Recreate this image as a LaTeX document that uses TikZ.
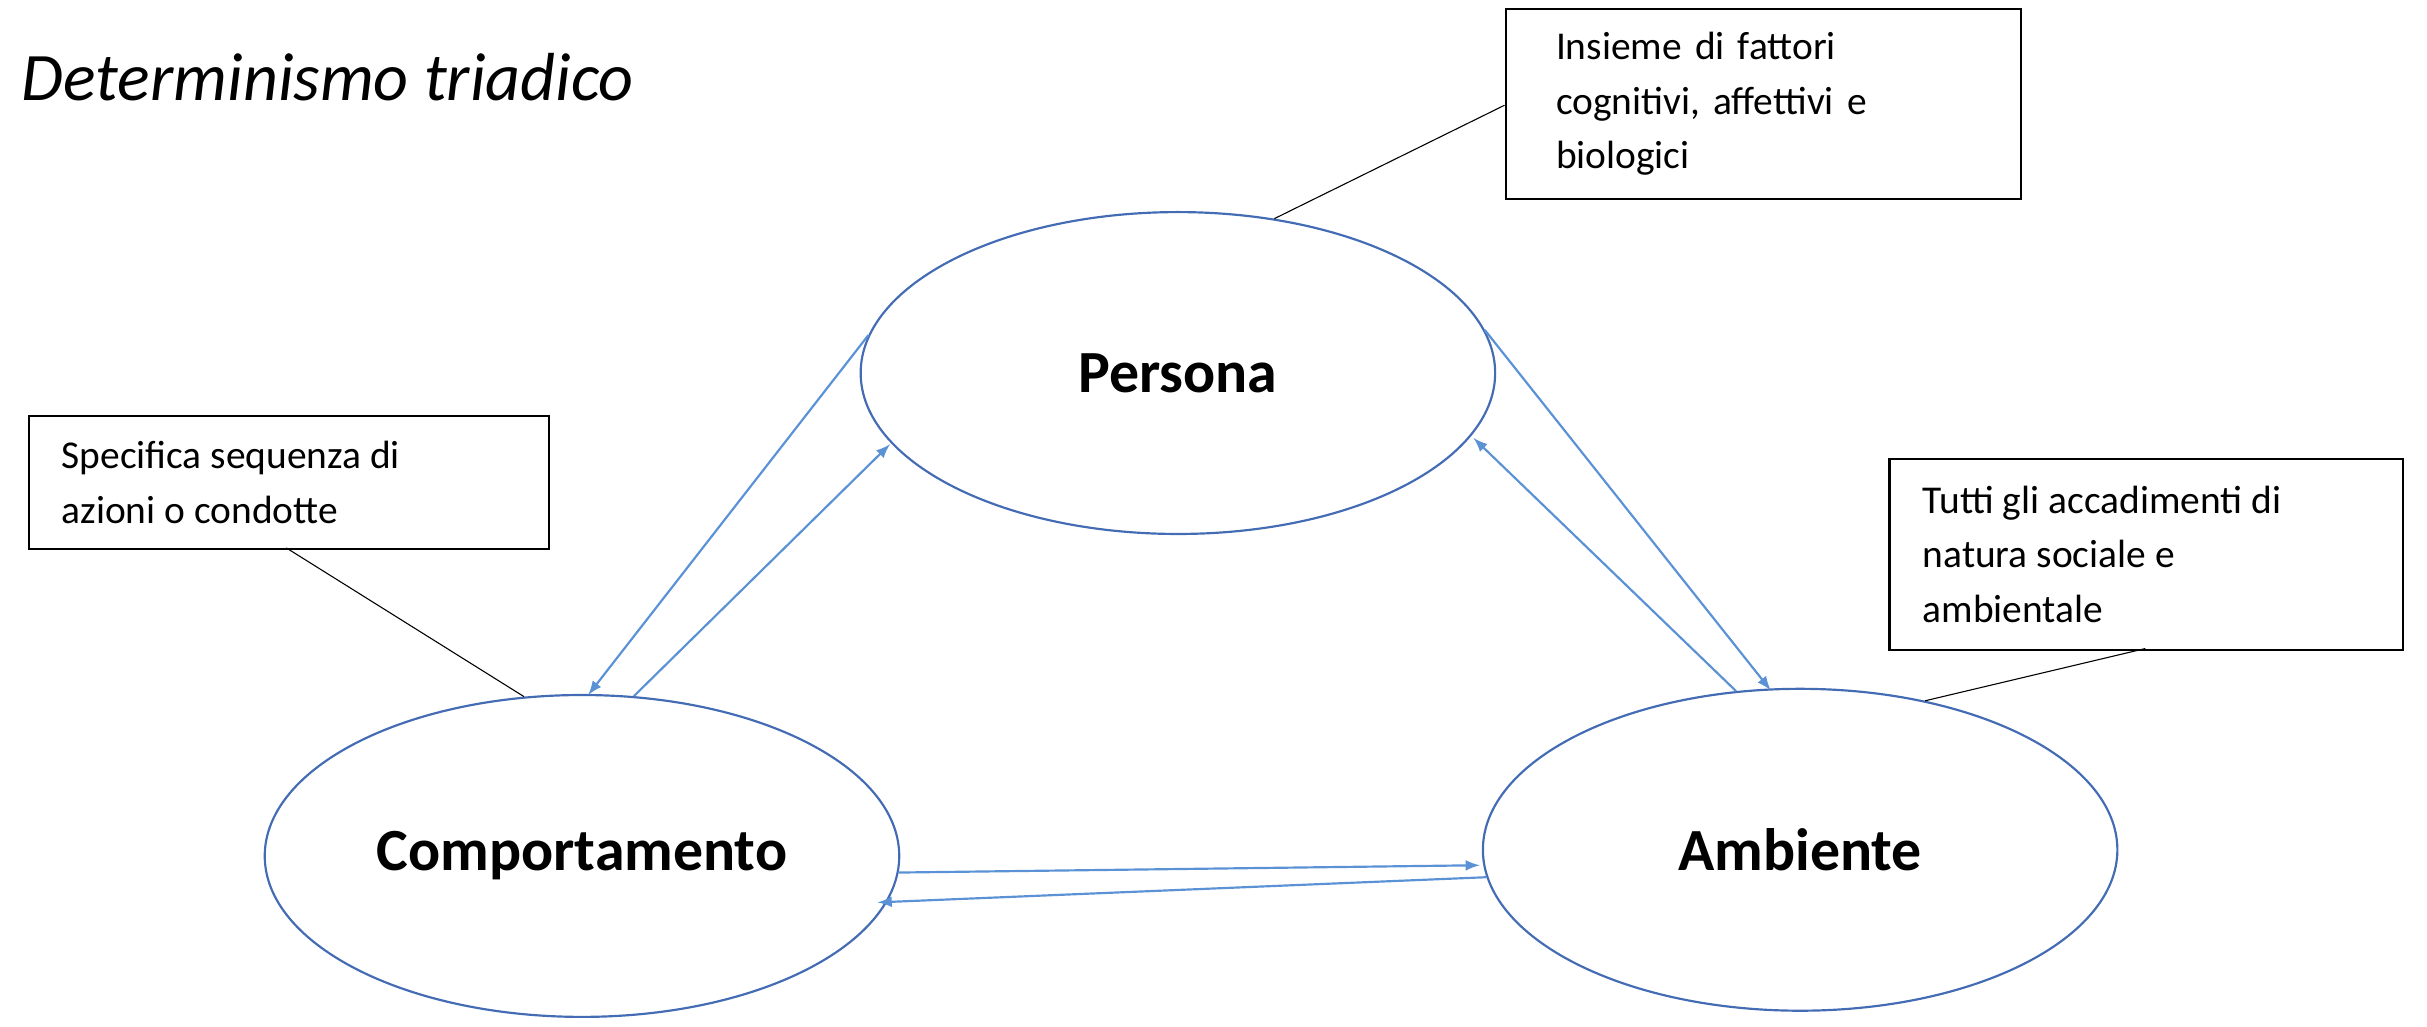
\documentclass[tikz,border=0pt]{standalone}
\usepackage{fontspec}
\setmainfont{Carlito}
\usetikzlibrary{shapes.geometric}
\definecolor{ringblue}{RGB}{68,108,180}
\definecolor{arrowblue}{RGB}{91,146,213}
\tikzset{
  ring/.style={ellipse, draw=ringblue, thick, minimum width=8.2cm, minimum height=4.16cm, inner sep=0pt, font=\fontsize{22}{26}\selectfont\bfseries},
  notebox/.style={draw, thick, anchor=north west, align=left, inner sep=0pt, font=\fontsize{14.5}{20}\selectfont},
  link/.style={arrowblue, thick, -latex}
}
\begin{document}
\begin{tikzpicture}[x=0.02cm, y=-0.02cm]
            \useasboundingbox (0,0) rectangle (1568,663.5);
            \node[anchor=west, font=\fontsize{25}{30}\selectfont\itshape] (title) at (8,50) {Determinismo triadico};
            % the three ellipses
            \node[ring] (pers) at (761,241) {Persona};
            \node[ring] (comp) at (376,553) {Comportamento};
            \node[ring] (amb) at (1163,549) {Ambiente};
            % boxes
            \node[notebox, minimum width=6.66cm, minimum height=2.46cm, text width=6.2cm] (boxp) at (972,5)
                {\hspace*{12pt}\parbox[c][2.46cm][c]{6.2cm}{Insieme di fattori\\cognitivi, affettivi e\\biologici}};
            \node[notebox, minimum width=6.68cm, minimum height=1.72cm] (boxc) at (18,268)
                {\hspace*{12pt}\parbox[c][1.72cm][c]{6.3cm}{Specifica sequenza di\\azioni o condotte}};
            \node[notebox, minimum width=6.64cm, minimum height=2.46cm] (boxa) at (1220,296)
                {\hspace*{12pt}\parbox[c][2.46cm][c]{6.2cm}{Tutti gli accadimenti di\\natura sociale e\\ambientale}};
            \draw (boxp.west |- 0,68) -- (pers.58);
            \draw (185,354) -- (comp.110);
            \draw (1386,419) -- (amb.50);
            % arrows
            \draw[link] (pers.173) -- (380,449);
            \draw[link] (comp.72) -- (575,287);
            \draw[link] (pers.8) -- (1144,446);
            \draw[link] (amb.112) -- (952,283);
            \draw[link] (comp.-3) -- (956,559);
            \draw[link] (amb.-175) -- (567,583);
        \end{tikzpicture}
\end{document}
